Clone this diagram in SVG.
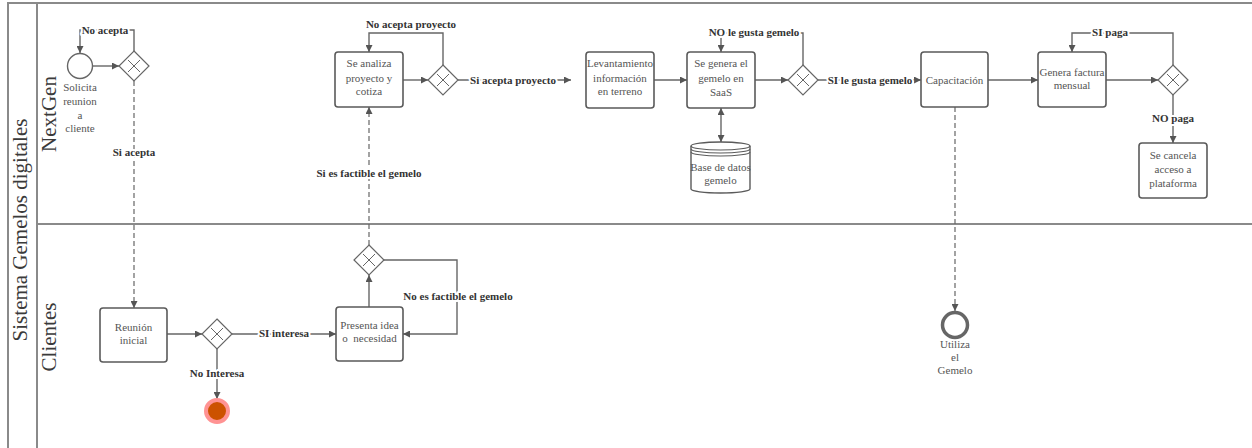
<svg xmlns="http://www.w3.org/2000/svg" width="1252" height="448" viewBox="0 0 1252 448">
<style>
.pool{fill:none;stroke:#8a8a8a;stroke-width:2}
.task{fill:#fff;stroke:#5a5a5a;stroke-width:1.6}
.gw{fill:#fff;stroke:#666;stroke-width:1.2}
.gx{stroke:#666;stroke-width:1}
.t{font-family:"Liberation Serif",serif;font-size:11px;fill:#555;text-anchor:middle}
.lbl{font-family:"Liberation Serif",serif;font-size:11px;font-weight:bold;fill:#333;text-anchor:middle;stroke:#fff;stroke-width:4;paint-order:stroke;stroke-linejoin:round}
.lane{font-family:"Liberation Serif",serif;font-size:21px;fill:#3a3a3a;text-anchor:middle}
.c{fill:none;stroke:#666;stroke-width:1.4}
.d{fill:none;stroke:#666;stroke-width:1.2;stroke-dasharray:5 3}
</style>
<defs>
<marker id="ah" viewBox="0 0 10 10" refX="10" refY="5" markerWidth="7" markerHeight="7" markerUnits="userSpaceOnUse" orient="auto"><path d="M0,0 L10,5 L0,10 Z" fill="#555"/></marker>
<marker id="as" viewBox="0 0 10 10" refX="0" refY="5" markerWidth="7" markerHeight="7" markerUnits="userSpaceOnUse" orient="auto"><path d="M10,0 L0,5 L10,10 Z" fill="#555"/></marker>
<g id="gwshape"><path d="M0,-15 L15,0 L0,15 L-15,0 Z" class="gw"/><path d="M-6,-6 L6,6 M6,-6 L-6,6" class="gx"/></g>
</defs>
<rect width="1252" height="448" fill="#fff"/>
<g id="pool">
<path class="pool" d="M8,448 V3 H1252"/>
<path class="pool" d="M37,3 V448"/>
<path class="pool" d="M37,224 H1252"/>
<text class="lane" font-size="19.5" transform="translate(27,230) rotate(-90)">Sistema Gemelos digitales</text>
<text class="lane" transform="translate(56,114) rotate(-90)">NextGen</text>
<text class="lane" transform="translate(56,337) rotate(-90)">Clientes</text>
</g>
<g id="connectors">
<path class="c" d="M93,66 H119" marker-end="url(#ah)"/>
<path class="c" d="M134,51 V30 H80 V53" marker-end="url(#ah)"/>
<path class="d" d="M134,81 V308" marker-end="url(#ah)"/>
<path class="c" d="M167,334 H202" marker-end="url(#ah)"/>
<path class="c" d="M232,334 H336" marker-end="url(#ah)"/>
<path class="c" d="M217,349 V399" marker-end="url(#ah)"/>
<path class="c" d="M369,307 V275" marker-end="url(#ah)"/>
<path class="c" d="M384,260 H457 V334 H403" marker-end="url(#ah)"/>
<path class="d" d="M369,245 V107" marker-end="url(#ah)"/>
<path class="c" d="M403,80 H428" marker-end="url(#ah)"/>
<path class="c" d="M443,65 V33 H369 V52" marker-end="url(#ah)"/>
<path class="c" d="M458,80 H571" marker-end="url(#ah)"/>
<path class="c" d="M654,80 H687" marker-end="url(#ah)"/>
<path class="c" d="M721,108 V142" marker-start="url(#as)" marker-end="url(#ah)"/>
<path class="c" d="M755,80 H788" marker-end="url(#ah)"/>
<path class="c" d="M803,65 V33 H721 V52" marker-end="url(#ah)"/>
<path class="c" d="M818,80 H921" marker-end="url(#ah)"/>
<path class="c" d="M988,80 H1038" marker-end="url(#ah)"/>
<path class="c" d="M1106,80 H1158" marker-end="url(#ah)"/>
<path class="c" d="M1173,65 V33 H1072 V52" marker-end="url(#ah)"/>
<path class="c" d="M1173,95 V143" marker-end="url(#ah)"/>
<path class="d" d="M955,107 V311" marker-end="url(#ah)"/>
<text class="lbl" x="105" y="34">No acepta</text>
<text class="lbl" x="134" y="156">Si acepta</text>
<text class="lbl" x="284" y="337">SI interesa</text>
<text class="lbl" x="217" y="377">No Interesa</text>
<text class="lbl" x="458" y="300">No es factible el gemelo</text>
<text class="lbl" x="369" y="177">Si es factible el gemelo</text>
<text class="lbl" x="411" y="28">No acepta proyecto</text>
<text class="lbl" x="513" y="84">Si acepta proyecto</text>
<text class="lbl" x="754" y="36">NO le gusta gemelo</text>
<text class="lbl" x="870" y="84">SI le gusta gemelo</text>
<text class="lbl" x="1110" y="36">SI paga</text>
<text class="lbl" x="1173" y="122">NO paga</text>
</g>
<g id="start">
<circle cx="80" cy="66" r="12.5" fill="#fff" stroke="#666" stroke-width="1.4"/>
<text class="t"><tspan x="80" y="91">Solicita</tspan><tspan x="80" y="105">reunion</tspan><tspan x="80" y="119">a</tspan><tspan x="80" y="132">cliente</tspan></text>
</g>
<g id="gw1"><use href="#gwshape" x="134" y="66"/></g>
<g id="reunion">
<rect class="task" x="100" y="308" width="67" height="54" rx="3"/>
<text class="t"><tspan x="133.5" y="331">Reunión</tspan><tspan x="133.5" y="344">inicial</tspan></text>
</g>
<g id="gw2"><use href="#gwshape" x="217" y="334"/></g>
<g id="end1"><circle cx="217" cy="411" r="11" fill="#cc5200" stroke="#ff9393" stroke-width="4"/></g>
<g id="presenta">
<rect class="task" x="336" y="307" width="67" height="54" rx="3"/>
<text class="t" style="white-space:pre"><tspan x="369.5" y="329">Presenta idea</tspan><tspan x="369.5" y="342">o  necesidad</tspan></text>
</g>
<g id="gw3"><use href="#gwshape" x="369" y="260"/></g>
<g id="analiza">
<rect class="task" x="335" y="52" width="68" height="55" rx="3"/>
<text class="t"><tspan x="369" y="67">Se analiza</tspan><tspan x="369" y="82">proyecto y</tspan><tspan x="369" y="95">cotiza</tspan></text>
</g>
<g id="gw4"><use href="#gwshape" x="443" y="80"/></g>
<g id="levantamiento">
<rect class="task" x="586" y="52" width="68" height="56" rx="3"/>
<text class="t"><tspan x="620" y="67">Levantamiento</tspan><tspan x="620" y="82">información</tspan><tspan x="620" y="95">en terreno</tspan></text>
</g>
<g id="genera">
<rect class="task" x="687" y="52" width="68" height="56" rx="3"/>
<text class="t"><tspan x="721" y="67">Se genera el</tspan><tspan x="721" y="82">gemelo en</tspan><tspan x="721" y="96">SaaS</tspan></text>
</g>
<g id="db">
<path d="M691,146 A29.5,4 0 0 1 750,146 V189 A29.5,4 0 0 1 691,189 Z" fill="#fff" stroke="#5a5a5a" stroke-width="1.4"/>
<path d="M691,146 A29.5,4 0 0 0 750,146 M691,149 A29.5,4 0 0 0 750,149 M691,152 A29.5,4 0 0 0 750,152" fill="none" stroke="#5a5a5a" stroke-width="1.1"/>
<text class="t"><tspan x="720.5" y="171">Base de datos</tspan><tspan x="720.5" y="184">gemelo</tspan></text>
</g>
<g id="gw5"><use href="#gwshape" x="803" y="80"/></g>
<g id="capacitacion">
<rect class="task" x="921" y="52" width="67" height="55" rx="3"/>
<text class="t" x="954.5" y="84">Capacitación</text>
</g>
<g id="factura">
<rect class="task" x="1038" y="52" width="68" height="55" rx="3"/>
<text class="t"><tspan x="1072" y="76">Genera factura</tspan><tspan x="1072" y="89">mensual</tspan></text>
</g>
<g id="gw6"><use href="#gwshape" x="1173" y="80"/></g>
<g id="cancela">
<rect class="task" x="1139" y="143" width="68" height="55" rx="3"/>
<text class="t"><tspan x="1173" y="159">Se cancela</tspan><tspan x="1173" y="173">acceso a</tspan><tspan x="1173" y="187">plataforma</tspan></text>
</g>
<g id="utiliza">
<circle cx="955" cy="325" r="12.5" fill="#fff" stroke="#666" stroke-width="3.5"/>
<text class="t"><tspan x="955" y="348">Utiliza</tspan><tspan x="955" y="361">el</tspan><tspan x="955" y="374">Gemelo</tspan></text>
</g>
</svg>
